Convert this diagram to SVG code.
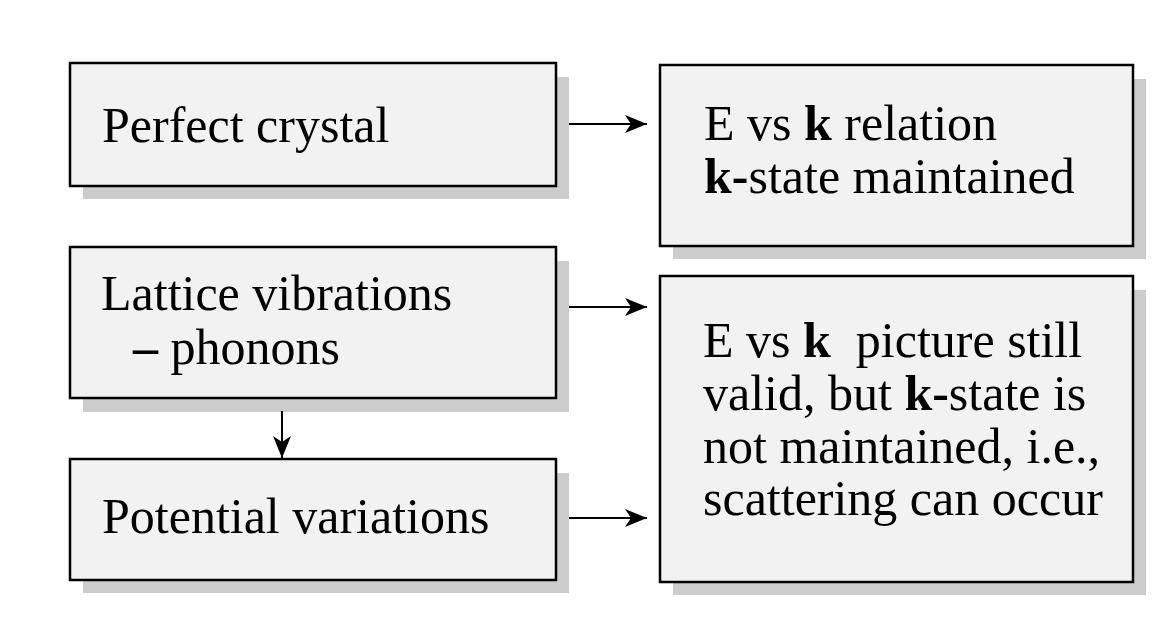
<svg xmlns="http://www.w3.org/2000/svg" width="1169" height="621" viewBox="0 0 1169 621">
<style>
.shadow{fill:#cccccc;stroke:none}
.box{fill:#f2f2f2;stroke:#000;stroke-width:2.5}
.t{font-family:"Liberation Serif","Times New Roman",serif;font-size:50px;fill:#000}
.b{font-weight:bold}
.conn{stroke:#000;stroke-width:2;fill:none}
</style>
<defs>
<marker id="ah" markerUnits="userSpaceOnUse" markerWidth="24" markerHeight="20" refX="22" refY="9" orient="auto">
<path d="M0,0 L22,9 L0,18 L6,9 Z" fill="#000"/>
</marker>
</defs>
<rect width="1169" height="621" fill="#fff"/>
<g id="perfect-crystal">
<rect class="shadow" x="83" y="77" width="486" height="122"/>
<rect class="box" x="70" y="63" width="486" height="123"/>
<text class="t" x="102" y="142">Perfect crystal</text>
</g>
<g id="e-vs-k-relation">
<rect class="shadow" x="673" y="79" width="473" height="180"/>
<rect class="box" x="660" y="65" width="473" height="181"/>
<text class="t" x="704" y="140">E vs <tspan class="b">k</tspan> relation</text>
<text class="t" x="704" y="193"><tspan class="b">k-</tspan>state maintained</text>
</g>
<g id="lattice-vibrations">
<rect class="shadow" x="83" y="261" width="486" height="151"/>
<rect class="box" x="70" y="247" width="486" height="151"/>
<text class="t" x="101" y="310">Lattice vibrations</text>
<text class="t" x="133" y="364"><tspan class="b">–</tspan> phonons</text>
</g>
<g id="potential-variations">
<rect class="shadow" x="83" y="473" width="486" height="120"/>
<rect class="box" x="70" y="459" width="486" height="121"/>
<text class="t" x="102" y="533">Potential variations</text>
</g>
<g id="e-vs-k-picture">
<rect class="shadow" x="673" y="290" width="473" height="305"/>
<rect class="box" x="660" y="276" width="473" height="306"/>
<text class="t" x="703" y="357">E vs <tspan class="b">k</tspan><tspan dx="25">picture still</tspan></text>
<text class="t" x="703" y="410">valid, but <tspan class="b">k-</tspan>state is</text>
<text class="t" x="703" y="463">not maintained, i.e.,</text>
<text class="t" x="703" y="515">scattering can occur</text>
</g>
<g id="connectors">
<line class="conn" x1="569" y1="124" x2="647" y2="124" marker-end="url(#ah)"/>
<line class="conn" x1="569" y1="307" x2="647" y2="307" marker-end="url(#ah)"/>
<line class="conn" x1="569" y1="518" x2="647" y2="518" marker-end="url(#ah)"/>
<line class="conn" x1="282" y1="411" x2="282" y2="458" marker-end="url(#ah)"/>
</g>
</svg>
